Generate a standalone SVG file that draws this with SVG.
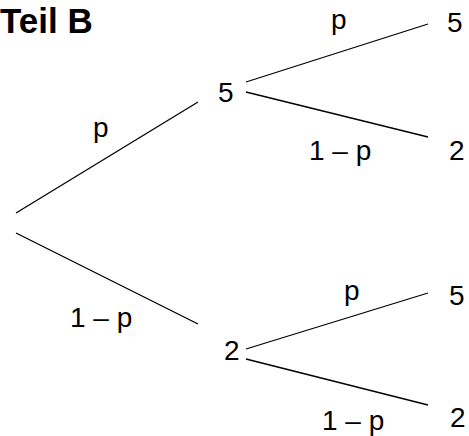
<svg xmlns="http://www.w3.org/2000/svg" width="469" height="436" viewBox="0 0 469 436">
  <style>
    .lbl { font-family: "Liberation Sans", Arial, sans-serif; font-size: 28px; fill: #000; }
    .title { font-family: "Liberation Sans", Arial, sans-serif; font-size: 35px; font-weight: bold; fill: #000; }
    .edge { stroke: #000; stroke-width: 1.3; fill: none; }
  </style>
  <rect width="469" height="436" fill="#fff"/>
  <text class="title" x="0" y="33">Teil B</text>

  <!-- branches -->
  <g id="connectors">
    <line class="edge" x1="16" y1="213" x2="198" y2="102"/>
    <line class="edge" x1="16" y1="233" x2="198" y2="324"/>
    <line class="edge" x1="246" y1="82" x2="428" y2="24"/>
    <line class="edge" x1="246" y1="92" x2="428" y2="137"/>
    <line class="edge" x1="246" y1="349" x2="428" y2="293"/>
    <line class="edge" x1="246" y1="359" x2="428" y2="405"/>
  </g>

  <!-- branch probabilities -->
  <g id="edge-labels">
    <text class="lbl" x="93" y="137">p</text>
    <text class="lbl" x="70" y="327">1 – p</text>
    <text class="lbl" x="331" y="29">p</text>
    <text class="lbl" x="309" y="160">1 – p</text>
    <text class="lbl" x="344" y="300">p</text>
    <text class="lbl" x="322" y="430">1 – p</text>
  </g>

  <g id="node-a"><text class="lbl" x="218" y="102">5</text></g>
  <g id="node-b"><text class="lbl" x="224" y="360">2</text></g>
  <g id="node-aa"><text class="lbl" x="447" y="32">5</text></g>
  <g id="node-ab"><text class="lbl" x="449" y="160">2</text></g>
  <g id="node-ba"><text class="lbl" x="449" y="305">5</text></g>
  <g id="node-bb"><text class="lbl" x="450" y="427">2</text></g>
</svg>
